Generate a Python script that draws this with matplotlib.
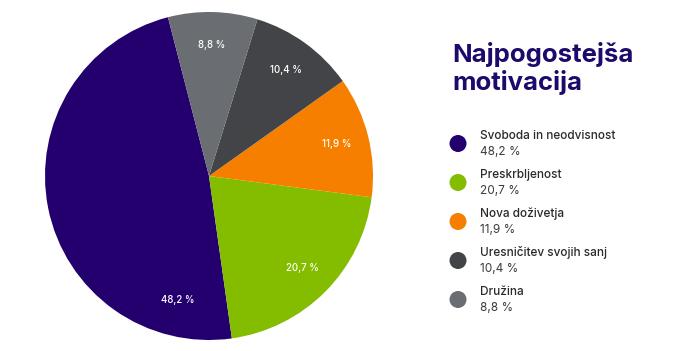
import matplotlib
matplotlib.use("Agg")
import matplotlib.pyplot as plt
import numpy as np

categories = ["Svoboda in neodvisnost", "Preskrbljenost", "Nova doživetja",
              "Uresničitev svojih sanj", "Družina"]
values = [48.2, 20.7, 11.9, 10.4, 8.8]
value_labels = ["48,2 %", "20,7 %", "11,9 %", "10,4 %", "8,8 %"]
colors = ["#24006E", "#84BD00", "#F77F00", "#434447", "#6A6D71"]
title_lines = ["Najpogostejša", "motivacija"]

W, H = 700, 351
fig = plt.figure(figsize=(W / 100, H / 100), dpi=100)
fig.patch.set_facecolor("white")

cx, cy, r = 209, 176, 164
ax = fig.add_axes([(cx - r) / W, (H - cy - r) / H, 2 * r / W, 2 * r / H])
wedges, texts, autotexts = ax.pie(
    values, colors=colors, startangle=104.5, counterclock=True,
    autopct=lambda p: "", pctdistance=0.8, radius=1,
    wedgeprops=dict(linewidth=0))
for t, lab in zip(autotexts, value_labels):
    t.set_text(lab)
    t.set_color("white")
    t.set_fontsize(7)
    t.set_fontfamily("Inter")
    t.set_fontweight("medium")
# first label sits lower in the slice
ang = np.deg2rad(256)
autotexts[0].set_position((0.78 * np.cos(ang), 0.78 * np.sin(ang)))
ax.set_xlim(-1, 1)
ax.set_ylim(-1, 1)
ax.set_aspect("equal")
ax.axis("off")

for i, line in enumerate(title_lines):
    fig.text(452 / W, 1 - (62 + 28 * i) / H, line, fontsize=18.5, fontweight="bold",
             family="Inter", color="#1E0A6B", va="baseline", ha="left")

# legend
lx0, ly_top, step = 440, 124, 39
lax = fig.add_axes([lx0 / W, (H - ly_top - step * len(categories)) / H,
                    (W - lx0) / W, step * len(categories) / H])
lax.set_xlim(0, W - lx0)
lax.set_ylim(len(categories), 0)
lax.axis("off")
ys = np.arange(len(categories)) + 0.5
lax.scatter(np.full(len(ys), 18), ys, s=150, c=colors, linewidths=0)
for y, name, val in zip(ys, categories, value_labels):
    lax.text(40, y - 0.2, name, fontsize=8.5, family="Inter", fontweight="medium",
             color="#2A2A2E", va="center", ha="left")
    lax.text(40, y + 0.22, val, fontsize=8.5, family="Inter", fontweight="normal",
             color="#3A3A40", va="center", ha="left")

fig.savefig("out.png", dpi=100, facecolor="white")
